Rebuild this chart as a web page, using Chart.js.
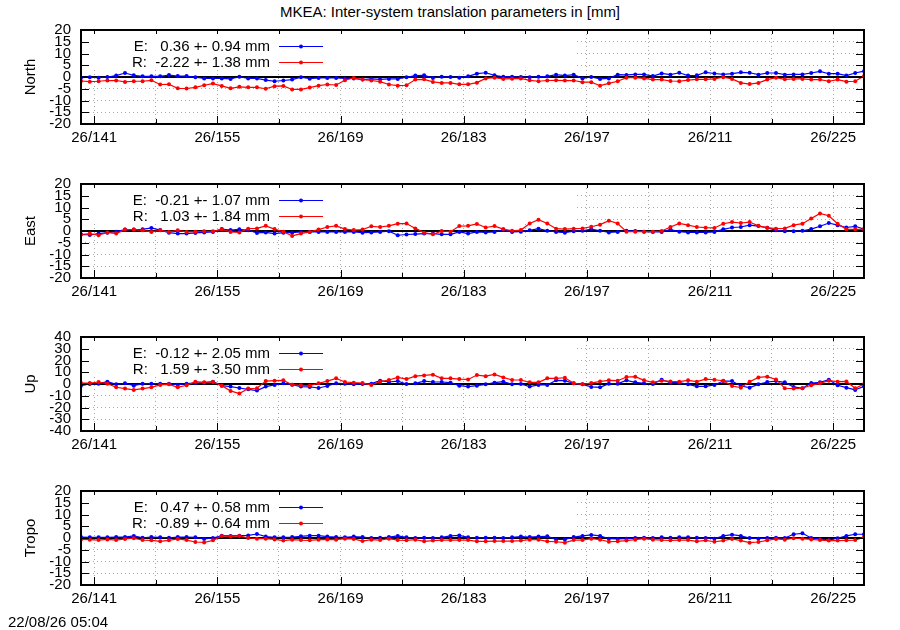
<!DOCTYPE html>
<html>
<head>
<meta charset="utf-8">
<title>MKEA: Inter-system translation parameters</title>
<script src="https://cdn.jsdelivr.net/npm/chart.js@4.4.1/dist/chart.umd.min.js"></script>
<style>
    body { margin: 0; background: #fff; font-family: "Liberation Sans", Arial, sans-serif; color: #000; }
    #page { position: relative; width: 900px; height: 630px; overflow: hidden; }
    #title { position: absolute; top: 3px; left: 0; width: 900px; text-align: center; font-size: 15px; line-height: 18px; }
    .panel { position: absolute; left: 0; width: 900px; height: 145px; }
    #stamp { position: absolute; left: 8px; top: 613px; font-size: 15px; line-height: 18px; }
</style>
</head>
<body>
<div id="page">
    <div id="title">MKEA: Inter-system translation parameters in [mm]</div>
    <canvas class="panel" id="panel-0" width="900" height="145" style="top:10px"></canvas>
    <canvas class="panel" id="panel-1" width="900" height="145" style="top:164px"></canvas>
    <canvas class="panel" id="panel-2" width="900" height="145" style="top:317px"></canvas>
    <canvas class="panel" id="panel-3" width="900" height="145" style="top:471px"></canvas>
    <div id="stamp">22/08/26 05:04</div>
</div>
<script>
// ==========================================
// Data (mm). One value per day, first one at day 139.5
// ==========================================
const firstDay = 139.5;
const lastDay = 228.5;
const xTickDays = [141, 148, 155, 162, 169, 176, 183, 190, 197, 204, 211, 218, 225];
const xTickLabels = ['26/141', '', '26/155', '', '26/169', '', '26/183', '', '26/197', '', '26/211', '', '26/225'];

const panelNames = ['North', 'East', 'Up', 'Tropo'];
const yLimits = [20, 20, 40, 20];
const yTickSteps = [5, 5, 10, 5];

const meanE = [0.36, -0.21, -0.12, 0.47];
const sigmaE = [0.94, 1.07, 2.05, 0.58];
const meanR = [-2.22, 1.03, 1.59, -0.89];
const sigmaR = [1.38, 1.84, 3.50, 0.64];

const northE = [-0.3, -0.1, -0.3, 0, 0.6, 1.7, 0.7, 0.3, 0.3, 0.3, 0.8, 0.4, 0.4, -0.1, -0.6, -0.6, -0.6, -0.8, 0.1, -0.6,
    -0.6, -1.3, -1.8, -1.5, -1.1, -0.1, -0.7, -0.4, -0.4, -0.4, -0.6, -0.6, -1.1, -0.8, -1.0, -0.8, -0.8, -0.1, 0.6, 0.7,
    -0.4, 0.1, 0, -0.3, 0.3, 1.4, 1.8, 0.7, 0.1, 0.1, 0, -0.1, 0.1, 0.3, 1.0, 0.6, 1.0, -0.6, 0, -0.8,
    -0.6, 1.0, 0.9, 1.1, 1.1, 0.4, 1.5, 1.0, 1.8, 0.6, 0.7, 2.0, 1.5, 1.1, 1.4, 2.0, 1.8, 1.0, 1.7, 1.7,
    1.0, 1.1, 1.1, 1.7, 2.4, 1.4, 1.4, 0.6, 1.7, 2.5];
const northR = [-1.7, -2.0, -1.8, -1.5, -1.5, -2.1, -1.8, -1.8, -1.4, -3.2, -3.1, -4.8, -4.9, -4.4, -3.5, -2.8, -3.8, -4.8, -4.2, -4.4,
    -4.4, -5.0, -3.9, -3.8, -5.3, -5.3, -4.5, -3.7, -3.2, -3.4, -1.4, -0.4, -1.1, -1.5, -2.0, -3.2, -3.7, -3.5, -1.1, -1.0,
    -2.1, -2.5, -2.5, -3.1, -3.1, -2.4, -0.6, -0.3, -0.8, -0.7, -0.6, -1.4, -1.8, -1.5, -1.4, -1.5, -1.5, -2.2, -2.2, -3.7,
    -2.7, -1.8, -0.3, -0.3, -0.6, -1.1, -1.1, -1.7, -1.8, -1.3, -1.0, -1.0, -0.8, -0.1, -0.8, -2.5, -3.0, -2.5, -1.1, -0.3,
    -1.0, -0.8, -0.8, -1.1, -1.1, -1.8, -1.1, -2.0, -1.8, 0.4];

const eastE = [-1.4, -1.7, -1.1, -0.7, -0.3, 0.6, 0.6, 0.7, 1.3, 0.4, -0.7, -1.1, -1.1, -0.8, -0.6, -0.4, 0.8, 0.4, 0.7, 0.3,
    -0.8, -0.6, -1.1, -0.7, -0.7, -0.4, -0.4, -0.4, -0.4, -0.4, -0.4, -0.4, -0.7, -0.6, -0.4, -0.1, -1.8, -1.5, -1.3, -1.1,
    -1.1, -1.4, -1.4, -0.4, -1.1, -0.4, -0.6, -0.4, 0.4, -0.4, -0.3, 0.3, 1.0, 0.1, -0.4, -0.7, -0.1, 0.1, 0.8, 0.1,
    -0.6, -0.4, 0.1, 0, -0.3, -0.4, -0.4, 0.6, -0.3, -0.6, -0.6, -0.6, -0.4, 0.7, 1.5, 1.7, 2.5, 2.1, 1.4, 0.3,
    -0.1, -0.1, 0.1, 0.8, 2.0, 3.4, 2.5, 1.5, 2.0, 0.8];
const eastR = [-1.5, -1.1, -1.8, -0.6, -1.1, 0.6, 0.6, 0.3, -0.4, 0.3, -0.4, 0.3, -0.4, -0.3, -0.1, -0.1, 0.7, -0.4, -0.6, 1.0,
    1.1, 2.2, 0.8, -0.3, -2.1, -1.1, -0.4, 0.6, 1.7, 2.2, 0.8, 0.4, 0.6, 2.0, 1.7, 2.2, 3.1, 3.2, 1.1, -0.7,
    -1.4, 0, -0.3, 2.1, 2.2, 3.0, 1.5, 2.1, 0.8, 0.1, 0.4, 3.2, 4.8, 3.2, 1.0, 0.8, 1.0, 1.1, 1.8, 2.7,
    4.4, 3.2, -0.3, -0.3, -0.3, -0.3, 0, 1.7, 3.2, 2.5, 1.7, 1.4, 1.3, 3.1, 3.8, 3.4, 3.8, 2.2, 1.4, 1.0,
    1.1, 2.5, 3.1, 5.3, 7.5, 6.5, 3.1, 0.7, 0.7, 0.7];

const upE = [-1.4, 0, 0.3, 2.0, -0.3, 0.6, -1.4, 0.3, 0.3, 0.3, 0.3, -0.6, 0.3, 0.8, 1.1, 2.0, -1.4, -2.2, -3.4, -4.5,
    -5.6, -2.2, -0.8, 0.6, -0.6, -2.2, -2.5, -3.4, -1.7, 0.6, 0.3, -0.3, 0, 0.3, 2.8, 1.7, 2.5, 0, 0.6, 2.5,
    1.7, 1.7, 1.1, -1.4, -2.2, -1.4, -0.3, 1.1, 2.0, -0.3, 0, -2.2, -0.8, -0.8, 3.1, 2.8, 0.6, -0.3, -2.5, -2.8,
    0.3, 0.3, 3.1, 1.4, 0.6, 0, 3.6, 1.1, 1.1, -0.3, -2.0, -2.0, -0.8, 2.5, 2.5, -1.7, -3.1, -0.3, 1.7, 2.5,
    1.4, -2.5, -3.6, 0.8, 1.4, 3.6, -1.1, -3.1, -5.0, -2.0];
const upR = [0.8, 0.8, 1.7, 0.3, -2.8, -3.9, -5.0, -3.9, -2.8, -0.8, -0.3, -2.8, -1.1, 2.0, 1.4, 1.7, -1.4, -5.9, -8.1, -3.9,
    -3.6, 2.5, 2.8, 3.1, -0.6, -1.1, -1.4, 0.6, 2.5, 4.8, 1.7, 1.1, 0.8, -0.8, 2.0, 3.4, 5.6, 4.2, 6.7, 7.3,
    7.9, 4.8, 4.8, 4.2, 3.9, 7.6, 6.7, 8.1, 5.6, 3.4, 3.4, 1.4, 1.4, 4.8, 4.8, 5.3, 0.6, -0.3, 0.8, 2.2,
    3.1, 2.8, 5.9, 6.2, 3.1, 1.4, 2.8, 2.2, 2.0, 3.1, 2.0, 4.2, 3.6, 2.8, -1.7, -3.1, 2.0, 5.6, 6.2, 3.9,
    -3.6, -3.9, -3.6, -1.1, 0.6, 2.8, 2.0, 2.2, -3.6, 0];

const tropoE = [0.4, 0.3, 0.3, 0.3, 0.4, 0.4, 0.9, 0.1, 0.4, 0.3, 0.1, 0.4, 0.4, 0.3, -0.4, 0, 1.0, 0.9, 1.0, 1.1,
    1.7, 0.6, 0.3, 0.3, 0.4, 0.7, 1.0, 1.0, 0.6, 0.4, 0.3, 0.6, 0.4, 0, 0.1, 0.4, 0.9, 0.3, 0, 0.1,
    0, 0.3, 0.9, 1.1, 0.3, 0.1, 0.1, 0.1, 0, 0.3, 0.6, 0.4, 0.6, 0.7, -0.6, -0.6, 0.4, 0.9, 1.3, 0.9,
    -0.3, -0.4, -0.3, 0, 0.1, 0, 0.3, 0.1, 0.3, 0.3, 0.1, 0, -0.3, 0.9, 1.4, 0.9, 0, -0.3, 0, 0.1,
    0, 1.6, 2.0, 0, -0.4, -0.9, -0.1, 0.9, 1.6, 1.6];
const tropoR = [-0.6, -0.7, -0.9, -0.6, -0.9, -0.4, -0.1, -0.9, -1.0, -1.4, -1.0, -0.4, -0.9, -1.7, -1.9, -1.0, 0.9, 0.6, 0.9, 0,
    -0.3, -0.3, -0.6, -1.1, -0.7, -0.9, -1.0, -0.7, -0.6, -0.7, -0.3, -0.4, -1.3, -0.7, -0.9, -0.3, -0.9, -1.0, -0.7, -1.4,
    -1.1, -0.9, -0.9, -0.9, -0.9, -1.4, -1.4, -1.3, -1.3, -1.3, -1.1, -0.7, -0.7, -1.4, -1.6, -2.0, -0.9, -0.9, -0.3, -0.7,
    -1.6, -1.4, -1.1, -0.7, -0.3, -0.7, -0.9, -1.0, -0.9, -0.9, -1.4, -1.0, -1.6, -1.1, -0.4, -1.1, -2.0, -1.7, -1.0, -0.4,
    -0.7, -0.1, -0.3, -0.6, -0.9, -1.1, -1.1, -1.0, -0.9, 0.4];

const seriesE = [northE, eastE, upE, tropoE];
const seriesR = [northR, eastR, upR, tropoR];

// ==========================================
// Look & feel (gnuplot-ish)
// ==========================================
const FONT = '"Liberation Sans", Arial, sans-serif';
const BLUE = '#0000ff';
const RED = '#ff0000';
const PAD_TOP = 20;         // canvas top -> plot frame top
const PLOT_H = 94;
const KEY_RIGHT = 573;      // right edge of the opaque key box
const KEY_HEIGHT = 38;
const KEY_TEXT_RIGHT = 270; // legend text is right aligned here
const KEY_LINE = [279, 323];

Chart.defaults.font.family = FONT;
Chart.defaults.font.size = 15;
Chart.defaults.color = '#000';

function fmtMean(v) {
    return (v < 0 ? '' : ' ') + v.toFixed(2);
}

function toPoints(values) {
    return values.map((v, i) => ({ x: firstDay + i, y: v }));
}

// frame, inner ticks, zero line and the key, drawn the way gnuplot does
const gnuplotLook = {
    id: 'gnuplotLook',
    beforeDatasetsDraw(chart) {
        const { ctx, chartArea: a, scales: { y } } = chart;
        ctx.save();
        ctx.fillStyle = '#fff';
        ctx.fillRect(a.left + 1, a.top + 1, KEY_RIGHT - a.left, KEY_HEIGHT);

        const y0 = y.getPixelForValue(0);
        ctx.strokeStyle = '#000';
        ctx.lineWidth = 2;
        ctx.beginPath();
        ctx.moveTo(a.left, y0);
        ctx.lineTo(a.right, y0);
        ctx.stroke();
        ctx.restore();
    },
    afterDatasetsDraw(chart) {
        const { ctx, chartArea: a, scales: { x, y } } = chart;
        ctx.save();
        ctx.strokeStyle = '#000';
        ctx.lineWidth = 1;
        ctx.beginPath();
        x.ticks.forEach((t, i) => {
            const px = Math.round(x.getPixelForValue(t.value)) + 0.5;
            const len = xTickLabels[i] ? 8 : 5;
            ctx.moveTo(px, a.bottom); ctx.lineTo(px, a.bottom - len);
            ctx.moveTo(px, a.top); ctx.lineTo(px, a.top + 4);
        });
        y.ticks.forEach(t => {
            const py = Math.round(y.getPixelForValue(t.value)) + 0.5;
            ctx.moveTo(a.left, py); ctx.lineTo(a.left + 8, py);
            ctx.moveTo(a.right, py); ctx.lineTo(a.right - 8, py);
        });
        ctx.stroke();

        ctx.lineWidth = 2;
        ctx.strokeRect(a.left, a.top, a.right - a.left, a.bottom - a.top);

        // key
        ctx.font = '15px ' + FONT;
        ctx.textAlign = 'right';
        ctx.textBaseline = 'middle';
        chart.data.datasets.forEach((ds, i) => {
            const ky = a.top + 16.5 + i * 16;
            ctx.fillStyle = '#000';
            ctx.fillText(ds.keyText, KEY_TEXT_RIGHT, ky);
            ctx.strokeStyle = ds.borderColor;
            ctx.lineWidth = 1.2;
            ctx.beginPath();
            ctx.moveTo(KEY_LINE[0], ky);
            ctx.lineTo(KEY_LINE[1], ky);
            ctx.stroke();
            ctx.fillStyle = ds.borderColor;
            ctx.beginPath();
            ctx.arc((KEY_LINE[0] + KEY_LINE[1]) / 2, ky, 2, 0, Math.PI * 2);
            ctx.fill();
        });
        ctx.restore();
    }
};

// ==========================================
// Build the four panels
// ==========================================
document.addEventListener('DOMContentLoaded', () => {
    panelNames.forEach((name, p) => {
        const canvas = document.getElementById('panel-' + p);
        const lim = yLimits[p];

        new Chart(canvas.getContext('2d'), {
            type: 'line',
            data: {
                datasets: [
                    {
                        label: 'E',
                        keyText: 'E:  ' + fmtMean(meanE[p]) + ' +- ' + sigmaE[p].toFixed(2) + ' mm',
                        data: toPoints(seriesE[p]),
                        borderColor: BLUE,
                        backgroundColor: BLUE,
                        borderWidth: 1.2,
                        pointRadius: 2,
                        pointBorderWidth: 0,
                        order: 1
                    },
                    {
                        label: 'R',
                        keyText: 'R:  ' + fmtMean(meanR[p]) + ' +- ' + sigmaR[p].toFixed(2) + ' mm',
                        data: toPoints(seriesR[p]),
                        borderColor: RED,
                        backgroundColor: RED,
                        borderWidth: 1.2,
                        pointRadius: 2,
                        pointBorderWidth: 0,
                        order: 0
                    }
                ]
            },
            options: {
                responsive: false,
                animation: false,
                events: [],
                layout: { autoPadding: false, padding: { left: 0, right: 36, top: PAD_TOP, bottom: 0 } },
                plugins: { legend: { display: false }, tooltip: { enabled: false } },
                scales: {
                    x: {
                        type: 'linear',
                        min: firstDay,
                        max: lastDay,
                        afterBuildTicks: s => { s.ticks = xTickDays.map(v => ({ value: v })); },
                        afterFit: s => { s.height = canvas.height - PAD_TOP - PLOT_H; },
                        ticks: {
                            autoSkip: false,
                            maxRotation: 0,
                            padding: 5,
                            callback: (v, i) => xTickLabels[i]
                        },
                        grid: { color: '#a8a8a8', lineWidth: 1, drawTicks: false },
                        border: { display: false, dash: [1, 3] }
                    },
                    y: {
                        min: -lim,
                        max: lim,
                        afterFit: s => { s.width = 81; },
                        ticks: { stepSize: yTickSteps[p], autoSkip: false, padding: 10 },
                        grid: { color: '#a8a8a8', lineWidth: 1, drawTicks: false },
                        border: { display: false, dash: [1, 3] },
                        title: { display: true, text: name, padding: { top: 22, bottom: 0 } }
                    }
                }
            },
            plugins: [gnuplotLook]
        });
    });
});
</script>
</body>
</html>
